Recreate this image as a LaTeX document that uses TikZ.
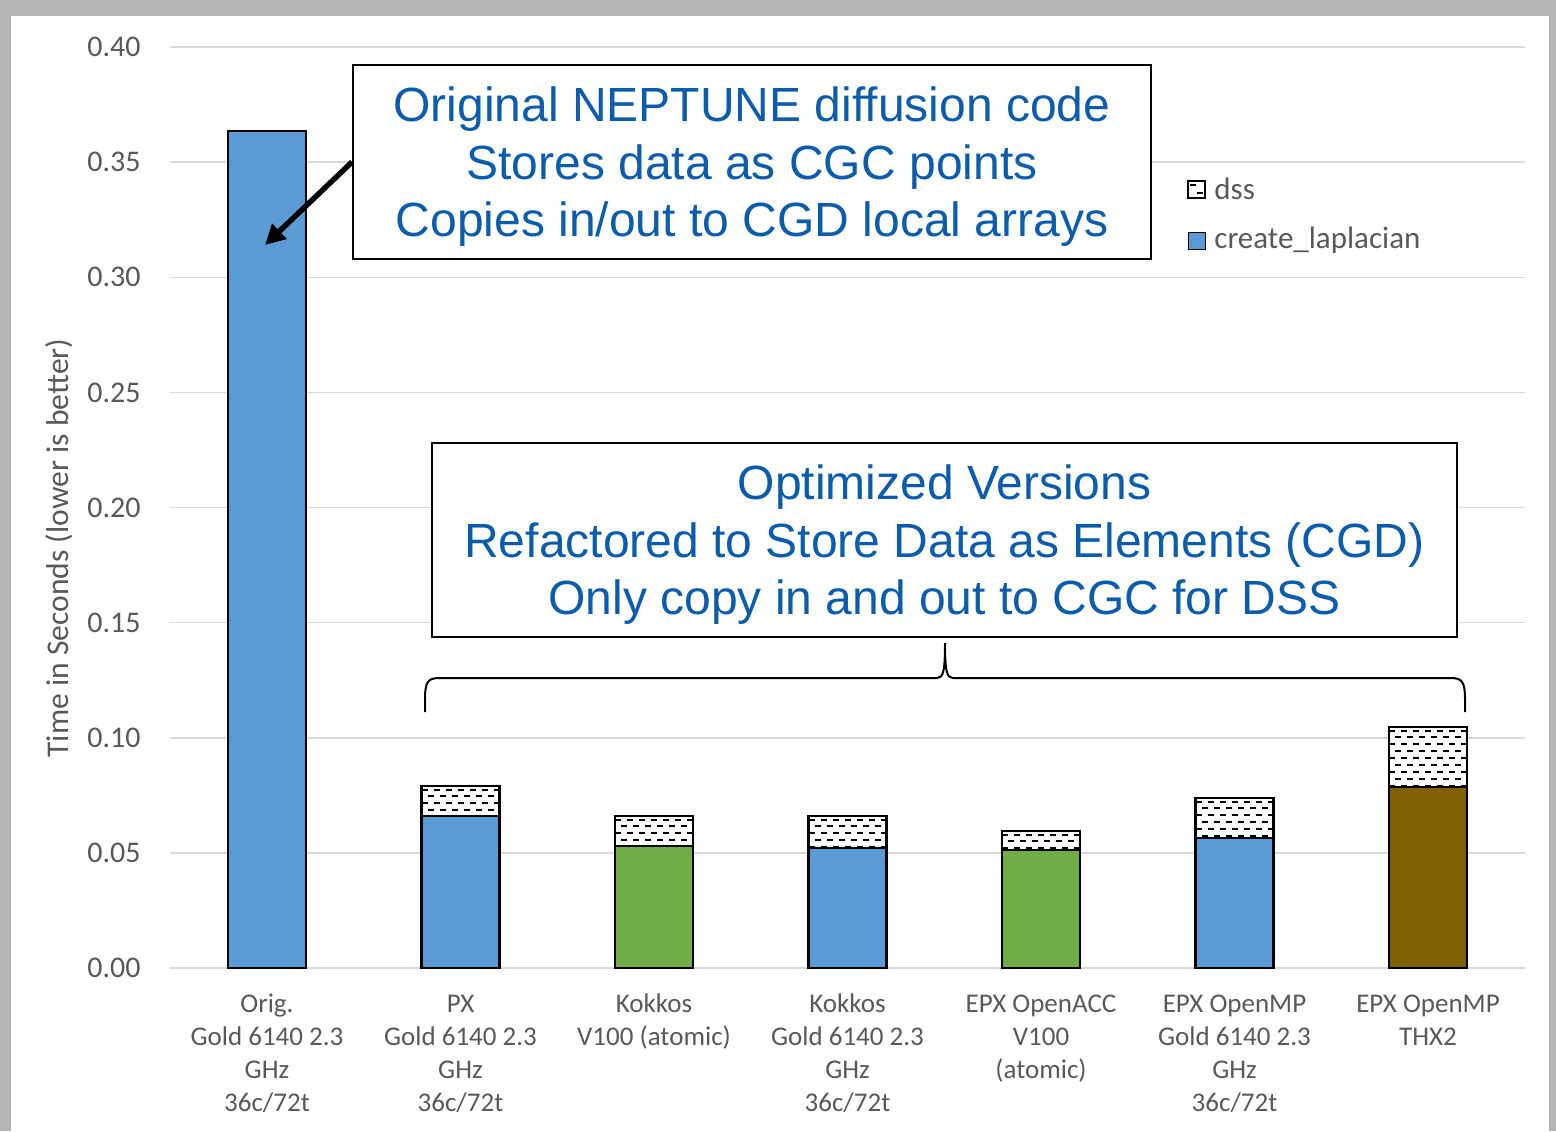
\documentclass[tikz,border=0pt]{standalone}
\usepackage{fontspec}
\setmainfont{Carlito}
\newfontfamily\arialf{Liberation Sans}
\usetikzlibrary{arrows.meta}
\definecolor{barblue}{HTML}{5B9BD5}
\definecolor{bargreen}{HTML}{70AD47}
\definecolor{barbrown}{HTML}{7F6000}
\definecolor{gridc}{HTML}{D9D9D9}
\definecolor{txtgray}{HTML}{595959}
\definecolor{calloutblue}{HTML}{0B5CAD}
\definecolor{framegray}{HTML}{B4B4B4}
\tikzset{
  gridline/.style={gridc, line width=0.75pt},
  barline/.style={black, line width=1.1pt},
  dsspat/.style={black, line width=1pt, dash pattern=on 3pt off 3pt},
  ticklab/.style={anchor=east, inner sep=0pt, text=txtgray, font=\fontsize{15}{18}\selectfont},
  catlab/.style={anchor=north, inner sep=0pt, align=center, text=txtgray, font=\fontsize{13.5}{16.5}\selectfont},
  leglab/.style={anchor=west, inner sep=0pt, text=txtgray, font=\fontsize{15.5}{18}\selectfont},
  calloutbox/.style={draw=black, line width=1pt, fill=white, inner sep=0pt},
  callouttext/.style={align=center, inner sep=0pt, text=calloutblue, font=\arialf\fontsize{24}{28.75}\selectfont},
  callarrow/.style={black, line width=2.7pt, -{Triangle[length=10pt,width=10pt]}},
  bracestyle/.style={black, line width=1pt}
}
\newcommand\dssfill[3]{%
  \begin{scope}
    \clip (#1-39,#2) rectangle (#1+39,#3);
    \fill[white] (#1-39,#2) rectangle (#1+39,#3);
    \foreach \yy in {3.5,17.3,...,200} \draw[dsspat,dash phase=0pt] (#1-39,#2+\yy) -- (#1+39,#2+\yy);
    \foreach \yy in {10.4,24.2,...,200} \draw[dsspat,dash phase=3pt] (#1-39,#2+\yy) -- (#1+39,#2+\yy);
  \end{scope}
  \draw[barline] (#1-39,#2) rectangle (#1+39,#3);}
\newcommand\mainbar[3]{%
  \fill[#3] (#1-39,#2) rectangle (#1+39,968);
  \draw[barline] (#1-39,#2) rectangle (#1+39,968);}
\begin{document}
\begin{tikzpicture}[x=0.5pt,y=-0.5pt]
\useasboundingbox (0,0) rectangle (1556,1131);
\fill[framegray] (0,0) rectangle (1556,1131);
\fill[white] (11,16) rectangle (1549,1131);
% gridlines and tick labels
\foreach \v/\lab in {0/0.00,1/0.05,2/0.10,3/0.15,4/0.20,5/0.25,6/0.30,7/0.35,8/0.40}{
  \draw[gridline] (170,968-115.125*\v) -- (1525,968-115.125*\v);
  \node[ticklab] (tick\v) at (141,968-115.125*\v) {\lab};
}
% axis title
\node[rotate=90, anchor=base, inner sep=0pt, text=txtgray, font=\fontsize{15.8}{19}\selectfont] (ytitle) at (68,548) {Time in Seconds (lower is better)};
% bars
\mainbar{267}{131}{barblue}
\mainbar{460.5}{816}{barblue}   \dssfill{460.5}{786}{816}
\mainbar{654}{846}{bargreen}    \dssfill{654}{816}{846}
\mainbar{847.5}{848}{barblue}   \dssfill{847.5}{816}{848}
\mainbar{1041}{850}{bargreen}   \dssfill{1041}{831}{850}
\mainbar{1234.5}{838}{barblue}  \dssfill{1234.5}{798}{838}
\mainbar{1428}{787}{barbrown}   \dssfill{1428}{727}{787}
% category labels
\node[catlab] (c1) at (267,989) {\strut Orig.\\Gold 6140 2.3\\GHz\\36c/72t};
\node[catlab] (c2) at (460.5,989) {\strut PX\\Gold 6140 2.3\\GHz\\36c/72t};
\node[catlab] (c3) at (654,989) {\strut Kokkos\\V100 (atomic)};
\node[catlab] (c4) at (847.5,989) {\strut Kokkos\\Gold 6140 2.3\\GHz\\36c/72t};
\node[catlab] (c5) at (1041,989) {\strut EPX OpenACC\\V100\\(atomic)};
\node[catlab] (c6) at (1234.5,989) {\strut EPX OpenMP\\Gold 6140 2.3\\GHz\\36c/72t};
\node[catlab] (c7) at (1428,989) {\strut EPX OpenMP\\THX2};
% legend
\node[draw=black, line width=1.1pt, fill=white, minimum size=8.5pt, inner sep=0pt] (lg1) at (1196.5,189.5) {};
\draw[black, line width=1pt] (1190,185) -- (1196,185) (1197,193) -- (1203,193);
\node[leglab] (lt1) at (1214,189) {dss};
\node[draw=black, line width=0.5pt, fill=barblue, minimum size=8.5pt, inner sep=0pt] (lg2) at (1196.5,240.5) {};
\node[leglab] (lt2) at (1214,240) {create\_laplacian};
% callouts
\node[calloutbox, minimum width=399pt, minimum height=97pt] (box1) at (752,162) {};
\node[callouttext] (box1text) at ([yshift=-2.5pt]box1.center)
  {Original NEPTUNE diffusion code\\Stores data as CGC points\\Copies in/out to CGD local arrays};
\node[calloutbox, minimum width=512.5pt, minimum height=97pt] (box2) at (944.5,540) {};
\node[callouttext] (box2text) at ([yshift=-2.5pt]box2.center)
  {Optimized Versions\\Refactored to Store Data as Elements (CGD)\\Only copy in and out to CGC for DSS};
% arrow
\coordinate (arrowend) at (265,245);
\draw[callarrow] (box1.west) -- (arrowend);
% brace
\coordinate (braceL) at (425,712);
\coordinate (braceR) at (1465,712);
\coordinate (braceTip) at (945,643);
\draw[bracestyle] (braceL) -- (425,700) .. controls (425,681) and (428,678) .. (440,678)
  -- (937,678) .. controls (943,678) and (945,672) .. (braceTip)
  .. controls (945,672) and (947,678) .. (953,678)
  -- (1450,678) .. controls (1462,678) and (1465,681) .. (1465,700) -- (braceR);
\end{tikzpicture}
\end{document}
